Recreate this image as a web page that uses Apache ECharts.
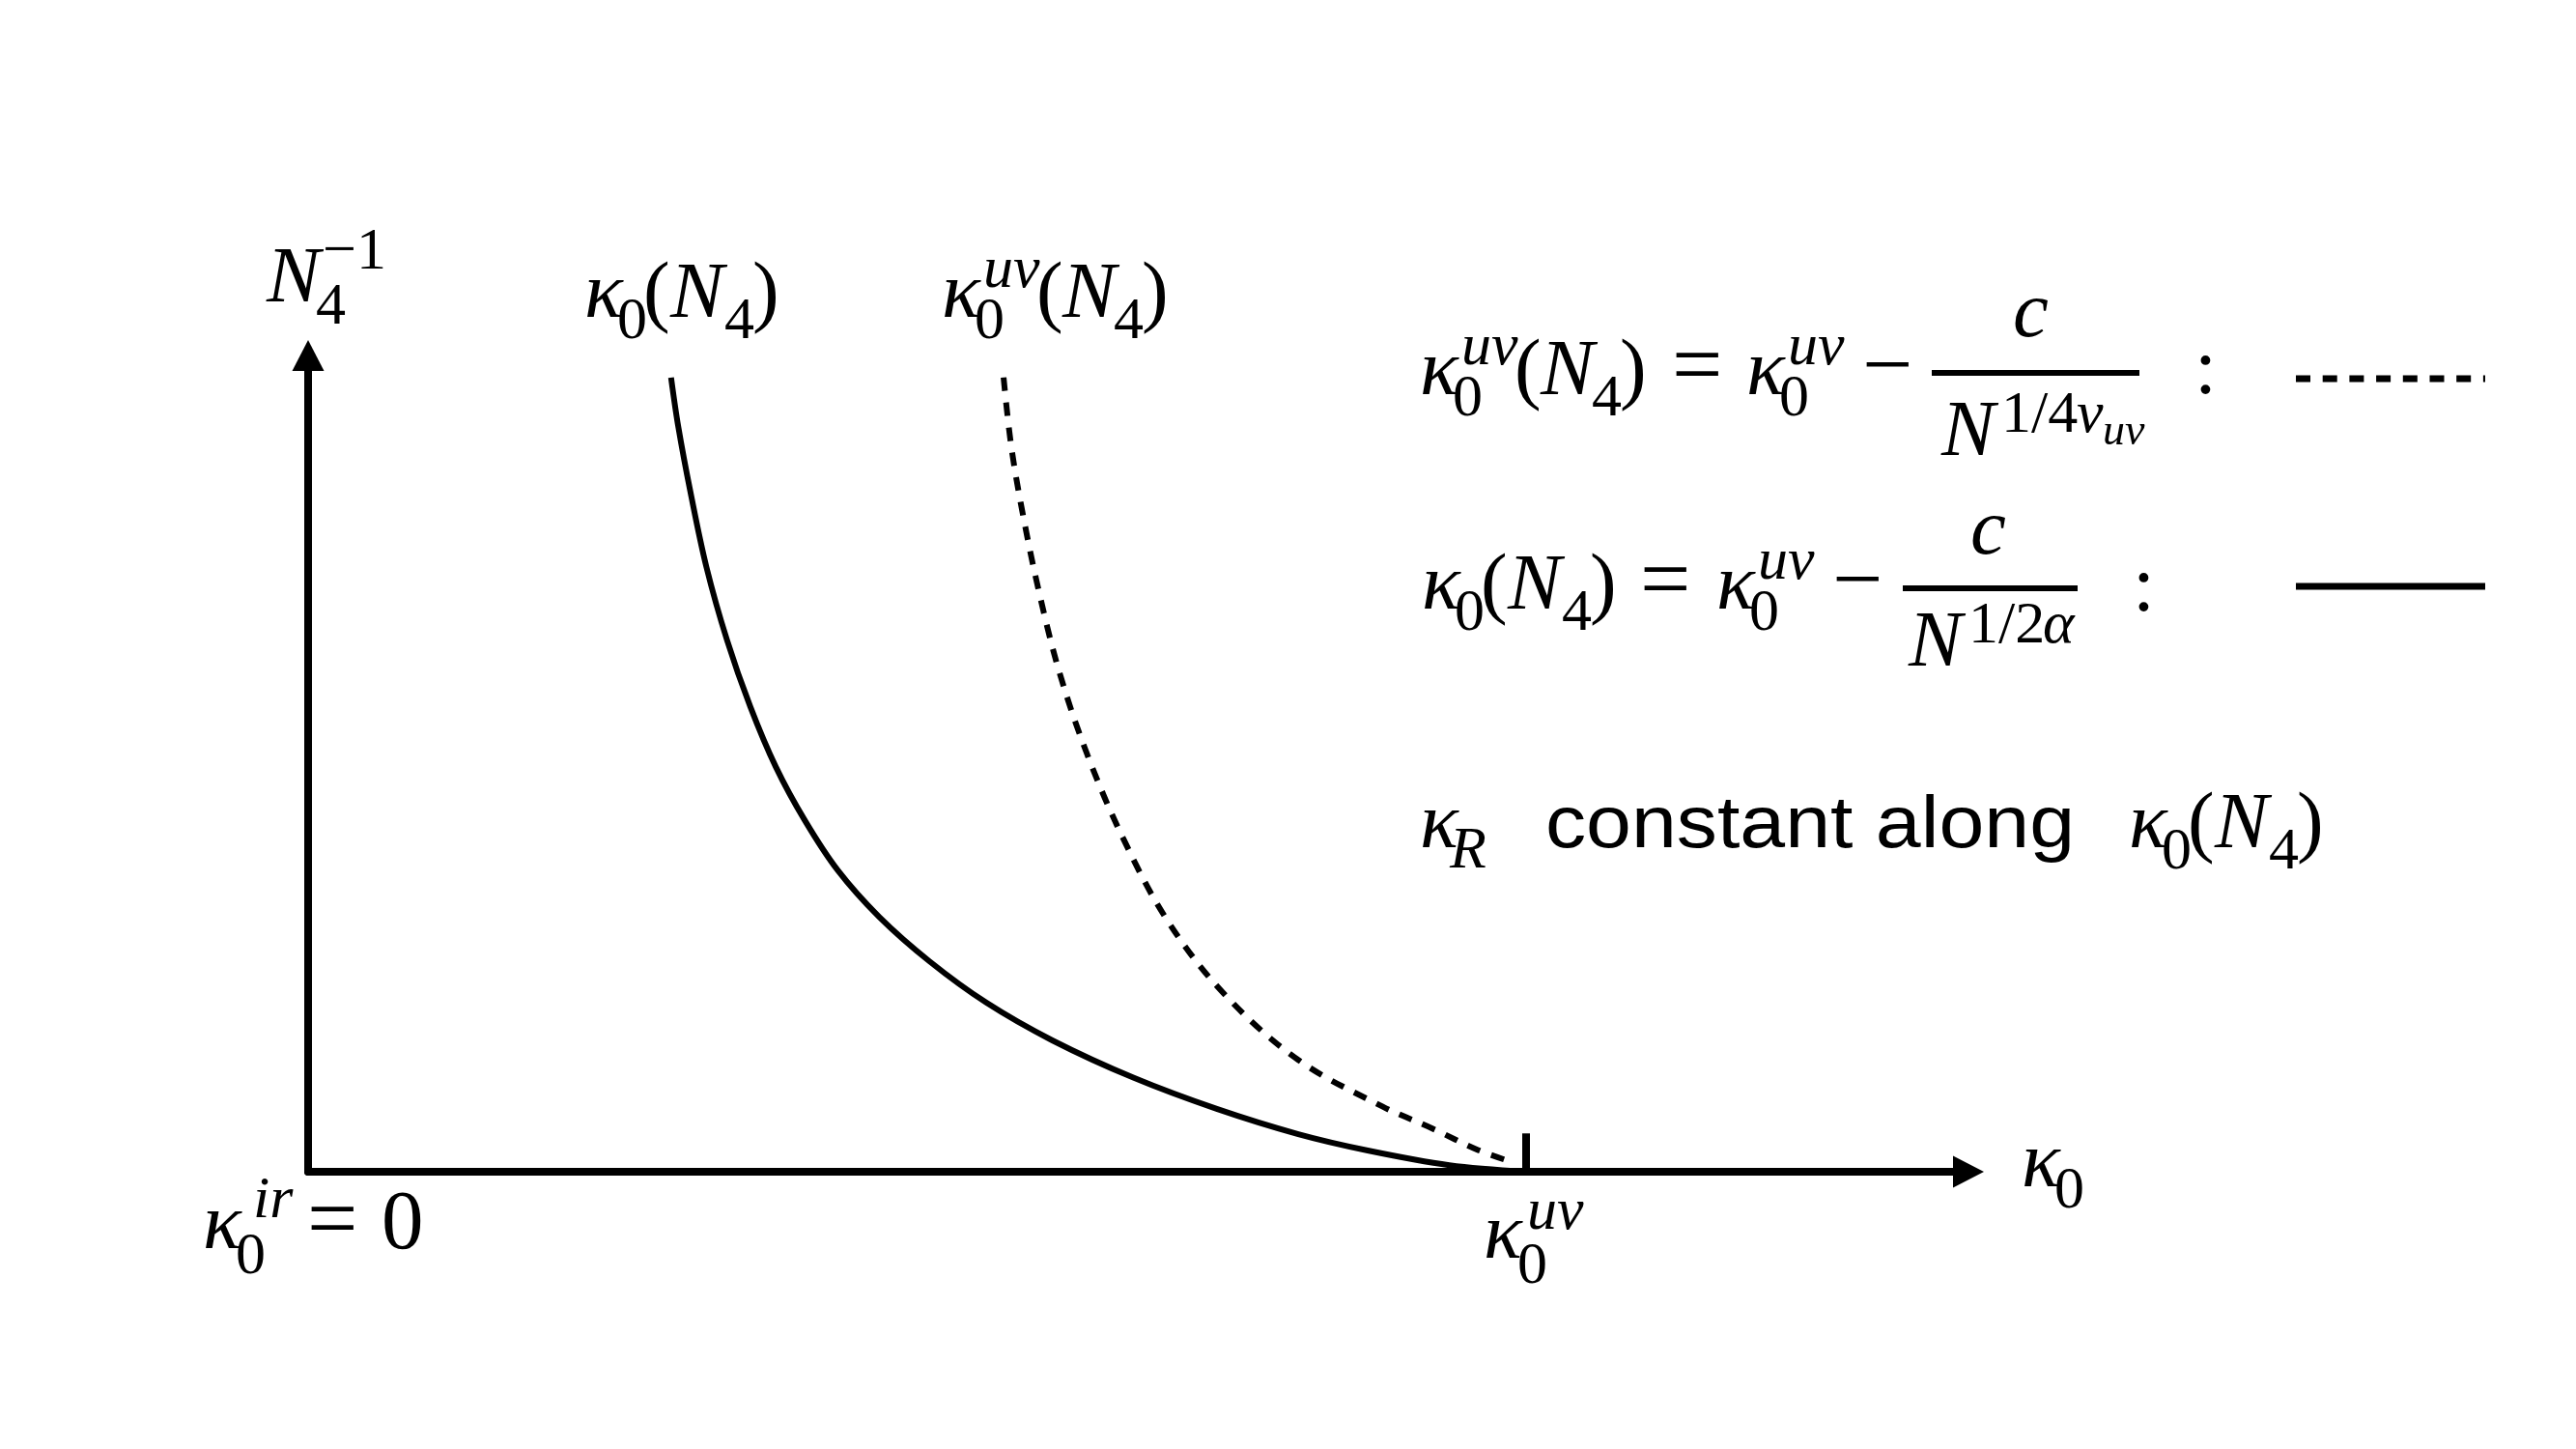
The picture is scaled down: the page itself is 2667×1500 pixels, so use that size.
<!DOCTYPE html>
<html><head><meta charset="utf-8">
<script src="https://cdn.jsdelivr.net/npm/echarts@6/dist/echarts.min.js"></script>
<style>html,body{margin:0;padding:0;background:#fff}#c{width:2667px;height:1500px}</style>
</head><body><div id="c"></div>
<script>
// ---- data (x in units of kappa0^uv, y = normalised 1/N4) ----
const solidKappa = [0.298,0.304,0.314,0.327,0.344,0.363,0.384,0.408,0.435,0.469,0.510,0.557,0.611,0.678,0.746,0.813,0.870,0.937,1.000];
const solidInvN  = [0.973,0.912,0.832,0.741,0.651,0.570,0.496,0.430,0.369,0.312,0.258,0.207,0.161,0.115,0.077,0.046,0.026,0.008,0.000];
const dashKappa  = [0.571,0.577,0.586,0.600,0.617,0.640,0.669,0.705,0.752,0.813,0.882,0.923,0.960,0.986];
const dashInvN   = [0.973,0.892,0.812,0.711,0.611,0.510,0.409,0.309,0.218,0.137,0.080,0.053,0.027,0.013];
const kappaUV = 1;
const uvTickHeight = 0.047;
const X_MAX = 1.3632, Y_MAX = 1;

// ---- text helpers ----
const SERIF = '"Liberation Serif"';
const SANS = '"Liberation Sans"';
const M = 83, S = 62, SS = 46, OP = 93;
const cv = document.createElement('canvas').getContext('2d');
const midCache = {};
function mid(font) {
  if (midCache[font] != null) return midCache[font];
  cv.font = font;
  cv.textBaseline = 'alphabetic';
  const a = cv.measureText('Hxg').fontBoundingBoxAscent;
  cv.textBaseline = 'middle';
  const b = cv.measureText('Hxg').fontBoundingBoxAscent;
  cv.textBaseline = 'alphabetic';
  let v = a - b;
  if (!(isFinite(v))) v = parseFloat(font.replace(/^italic /, '')) * 0.34;
  midCache[font] = v;
  return v;
}
function fnt(size, it, fam) { return (it ? 'italic ' : '') + size + 'px ' + (fam || SERIF); }
function piece(t, x, b, size, it, fam, extra) {
  const font = fnt(size, it, fam);
  const el = {type: 'text', x: x, y: b - mid(font), silent: true, z: 100,
    style: {text: t, font: font, fill: '#000', align: 'left', verticalAlign: 'middle'}};
  if (extra) Object.assign(el, extra);
  return el;
}
function k0N4(x, b) {
  return [piece('κ', x - 2, b, M, 1), piece('0', x + 32, b + 22, S, 0), piece('(', x + 59, b, M, 0),
          piece('N', x + 87, b, M, 1), piece('4', x + 143, b + 22, S, 0), piece(')', x + 172, b, M, 0)];
}
function k0uv(x, b) {
  return [piece('κ', x - 2, b, M, 1), piece('0', x + 32, b + 22, S, 0), piece('uv', x + 41, b - 31, S, 1)];
}
function k0uvN4(x, b) {
  return k0uv(x, b).concat([piece('(', x + 96, b, M, 0), piece('N', x + 123, b, M, 1),
          piece('4', x + 176, b + 22, S, 0), piece(')', x + 205, b, M, 0)]);
}
function hline(x1, x2, y, w, dash) {
  const st = {stroke: '#000', lineWidth: w};
  if (dash) st.lineDash = dash;
  return {type: 'line', silent: true, z: 100, shape: {x1: x1, y1: y, x2: x2, y2: y}, style: st};
}

let g = [];
// axis labels
g.push(piece('N', 276, 312, M, 1), piece('4', 327, 335, S, 0), piece('−1', 334, 278, S, 0));
g = g.concat(k0N4(607, 328));
g = g.concat(k0uvN4(977, 328));
g.push(piece('κ', 2093, 1228, M, 1), piece('0', 2127, 1250, S, 0));
g.push(piece('κ', 210, 1292, M, 1), piece('0', 244, 1318, S, 0), piece('ir', 262, 1260, S, 1),
       piece('=', 318, 1292, OP, 0), piece('0', 395, 1292, M + 4, 0));
g.push(piece('κ', 1536, 1302, M, 1), piece('0', 1571, 1328, S, 0), piece('uv', 1581, 1272, S, 1));

// row 1
g = g.concat(k0uvN4(1472, 408));
g.push(piece('=', 1731, 408, OP, 0));
g = g.concat(k0uv(1810, 408));
g.push(piece('−', 1928, 408, OP, 0));
g.push(piece('c', 2084, 348, M, 1));
g.push(hline(2000, 2215, 386, 6));
g.push(piece('N', 2010, 471, M, 1), piece('1/4', 2072, 447, S, 0), piece('ν', 2150, 447, S, 1), piece('uv', 2177, 460, SS, 1));
g.push(piece(':', 2272, 407, M, 0));
g.push(hline(2377, 2573, 392, 7, [15, 12.7]));

// row 2
g = g.concat(k0N4(1474, 630));
g.push(piece('=', 1698, 630, OP, 0));
g = g.concat(k0uv(1779, 630));
g.push(piece('−', 1897, 630, OP, 0));
g.push(piece('c', 2040, 573, M, 1));
g.push(hline(1970, 2151, 609, 6));
g.push(piece('N', 1976, 689, M, 1), piece('1/2', 2038, 665, S, 0), piece('α', 2115, 665, S, 1));
g.push(piece(':', 2208, 632, M, 0));
g.push(hline(2377, 2573, 607, 7));

// row 3
g.push(piece('κ', 1470, 877, M, 1), piece('R', 1501, 898, S, 1));
(function () {
  const f = fnt(76, 0, SANS);
  cv.font = f;
  const w = cv.measureText('constant along').width;
  g.push(piece('constant along', 1600, 877, 76, 0, SANS, {scaleX: 548 / w}));
})();
g = g.concat(k0N4(2206, 877));

const chart = echarts.init(document.getElementById('c'), null, {renderer: 'canvas'});
const axisCommon = {
  axisLine: {show: true, symbol: ['none', 'triangle'], symbolSize: [33, 32], lineStyle: {color: '#000', width: 8}},
  axisTick: {show: false}, axisLabel: {show: false}, splitLine: {show: false}
};
chart.setOption({
  animation: false,
  backgroundColor: '#fff',
  grid: {left: 319, right: 2667 - 2038, top: 368, bottom: 1500 - 1213, containLabel: false},
  xAxis: Object.assign({type: 'value', min: 0, max: X_MAX}, axisCommon),
  yAxis: Object.assign({type: 'value', min: 0, max: Y_MAX}, axisCommon),
  series: [
    {type: 'line', name: 'kappa0(N4)', data: solidKappa.map((x, i) => [x, solidInvN[i]]),
     showSymbol: false, smooth: 0.35, lineStyle: {color: '#000', width: 6},
     markLine: {silent: true, symbol: ['none', 'none'], label: {show: false},
       lineStyle: {type: 'solid', color: '#000', width: 8},
       data: [[{coord: [kappaUV, 0]}, {coord: [kappaUV, uvTickHeight]}]]}},
    {type: 'line', name: 'kappa0uv(N4)', data: dashKappa.map((x, i) => [x, dashInvN[i]]),
     showSymbol: false, smooth: 0.35, lineStyle: {color: '#000', width: 6, type: [14, 12], cap: 'butt'}}
  ],
  graphic: g
});
</script></body></html>
